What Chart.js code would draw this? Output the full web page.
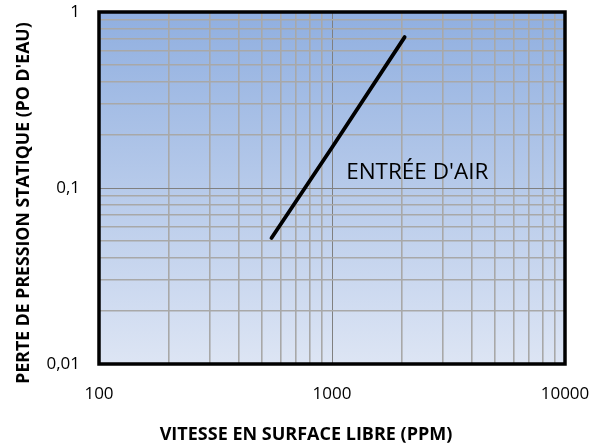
<!DOCTYPE html>
<html>
<head>
<meta charset="utf-8">
<script src="https://cdn.jsdelivr.net/npm/chart.js@4.4.1/dist/chart.umd.min.js"></script>
<style>
  html, body { margin: 0; padding: 0; background: #fff; }
  #wrap { width: 600px; height: 446px; }
</style>
</head>
<body>
<div id="wrap"><canvas id="chart"></canvas></div>
<script>
// courbe (log-log)
const vitesse = [550, 1000, 2050];
const pression = [0.052, 0.17, 0.72];

// graduations
const xTicks = [100, 200, 300, 400, 500, 600, 700, 800, 900, 1000,
                2000, 3000, 4000, 5000, 6000, 7000, 8000, 9000, 10000];
const xLabels = { 100: '100', 1000: '1000', 10000: '10000' };
const yTicks = [0.01, 0.02, 0.03, 0.04, 0.05, 0.06, 0.07, 0.08, 0.09, 0.1,
                0.2, 0.3, 0.4, 0.5, 0.6, 0.7, 0.8, 0.9, 1];
const yLabels = { 0.01: '0,01', 0.1: '0,1', 1: '1' };
const majors = [100, 1000, 10000, 0.01, 0.1, 1];

const serieNom = "ENTRÉE D'AIR";
const serieEtiquette = { x: 1150, y: 0.122 };

const titreX = 'VITESSE EN SURFACE LIBRE (PPM)';
const titreY = "PERTE DE PRESSION STATIQUE (PO D'EAU)";

const FONT = "'Open Sans', sans-serif";

const fondDegrade = {
    id: 'fondDegrade',
    beforeDraw(chart) {
        const { ctx, chartArea: a } = chart;
        const g = ctx.createLinearGradient(0, a.top, 0, a.bottom);
        g.addColorStop(0, '#90afe0');
        g.addColorStop(1, '#dde5f4');
        ctx.save();
        ctx.fillStyle = g;
        ctx.fillRect(a.left, a.top, a.right - a.left, a.bottom - a.top);
        ctx.restore();
    }
};

const cadre = {
    id: 'cadre',
    afterDatasetsDraw(chart) {
        const { ctx, chartArea: a, scales } = chart;
        ctx.save();
        // étiquette de la courbe
        ctx.font = '22.5px ' + FONT;
        ctx.fillStyle = '#000';
        ctx.textAlign = 'left';
        ctx.textBaseline = 'middle';
        ctx.fillText(serieNom, scales.x.getPixelForValue(serieEtiquette.x),
                     scales.y.getPixelForValue(serieEtiquette.y));
        // cadre noir
        ctx.strokeStyle = '#000';
        ctx.lineWidth = 3.5;
        ctx.strokeRect(a.left, a.top, a.right - a.left, a.bottom - a.top);
        // titres des axes
        ctx.textAlign = 'center';
        ctx.font = 'bold 18px ' + FONT;
        ctx.fillText(titreX, 306, 435);
        ctx.translate(24, 203);
        ctx.rotate(-Math.PI / 2);
        ctx.font = 'bold 17.7px ' + FONT;
        ctx.fillText(titreY, 0, 0);
        ctx.restore();
    }
};

const gridStyle = {
    color: c => majors.includes(c.tick.value) ? '#808080' : '#a8a8a8',
    lineWidth: c => majors.includes(c.tick.value) ? 1 : 1.6,
    drawTicks: false
};

new Chart(document.getElementById('chart'), {
    type: 'line',
    data: {
        datasets: [{
            label: serieNom,
            data: vitesse.map((v, i) => ({ x: v, y: pression[i] })),
            borderColor: '#000',
            borderWidth: 3.8,
            borderCapStyle: 'round',
            pointRadius: 0,
            fill: false,
            tension: 0
        }]
    },
    options: {
        responsive: true,
        maintainAspectRatio: false,
        animation: false,
        layout: { padding: { top: 12, right: 35, left: 0, bottom: 0 } },
        plugins: {
            legend: { display: false },
            tooltip: { enabled: false }
        },
        scales: {
            x: {
                type: 'logarithmic',
                min: 100,
                max: 10000,
                afterBuildTicks: s => { s.ticks = xTicks.map(v => ({ value: v })); },
                afterFit: s => { s.height = 82; s.paddingLeft = 0; s.paddingRight = 0; },
                grid: gridStyle,
                border: { display: false },
                ticks: {
                    autoSkip: false,
                    maxRotation: 0,
                    padding: 20,
                    color: '#000',
                    font: { family: FONT, size: 17 },
                    callback: v => xLabels[v] || ''
                }
            },
            y: {
                type: 'logarithmic',
                min: 0.01,
                max: 1,
                afterBuildTicks: s => { s.ticks = yTicks.map(v => ({ value: v })); },
                afterFit: s => { s.width = 99; s.paddingTop = 0; s.paddingBottom = 0; },
                grid: gridStyle,
                border: { display: false },
                ticks: {
                    autoSkip: false,
                    padding: 19,
                    color: '#000',
                    font: { family: FONT, size: 17 },
                    callback: v => yLabels[v] || ''
                }
            }
        }
    },
    plugins: [fondDegrade, cadre]
});
</script>
</body>
</html>
